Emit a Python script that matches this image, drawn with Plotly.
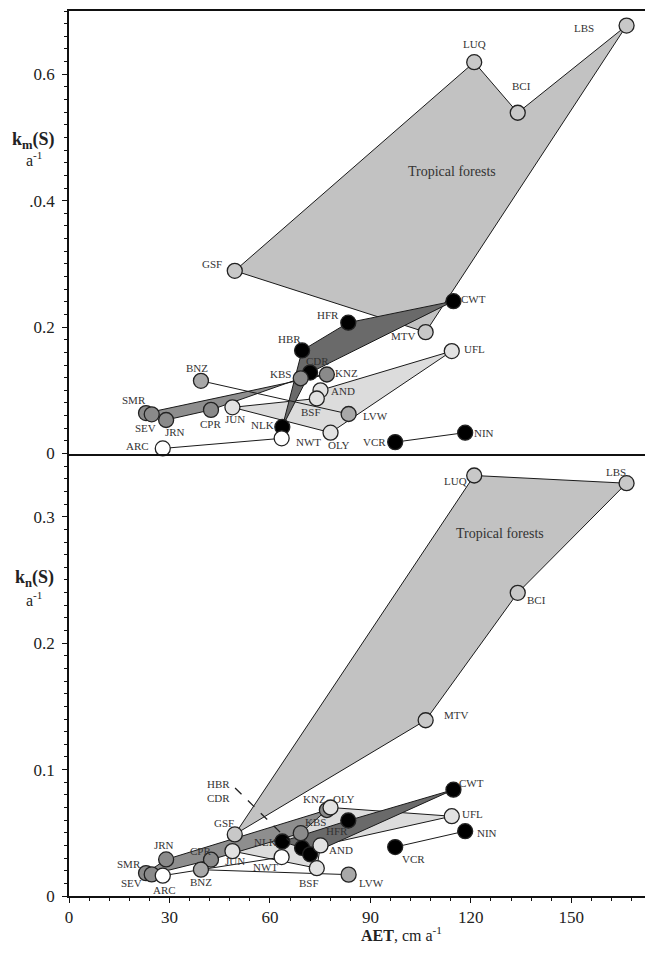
import plotly.graph_objects as go
from plotly.subplots import make_subplots

# ---------------- data ----------------
sites = ["LBS", "LUQ", "BCI", "GSF", "MTV", "CWT", "HFR", "HBR", "CDR", "KBS",
         "KNZ", "AND", "BSF", "LVW", "OLY", "NLK", "NWT", "JUN", "CPR", "BNZ",
         "SMR", "SEV", "JRN", "ARC", "UFL", "VCR", "NIN"]
aet = [166.5, 121.0, 134.0, 49.5, 106.5, 114.8, 83.4, 69.6, 72.0, 69.2,
       77.0, 75.1, 74.0, 83.5, 78.1, 63.7, 63.5, 48.8, 42.4, 39.4,
       23.0, 24.7, 29.0, 28.0, 114.3, 97.4, 118.3]
km = [0.677, 0.619, 0.539, 0.289, 0.192, 0.241, 0.207, 0.163, 0.128, 0.119,
      0.125, 0.100, 0.087, 0.0625, 0.033, 0.042, 0.024, 0.073, 0.069, 0.115,
      0.064, 0.062, 0.053, 0.008, 0.162, 0.018, 0.033]
kn = [0.3265, 0.3326, 0.2398, 0.0487, 0.139, 0.0841, 0.0597, 0.038, 0.033, 0.0497,
      0.068, 0.040, 0.022, 0.0169, 0.070, 0.0431, 0.0308, 0.0355, 0.0287, 0.0208,
      0.0181, 0.0171, 0.0289, 0.0161, 0.0631, 0.0387, 0.0513]
group = ["trop", "trop", "trop", "trop", "trop", "decid", "decid", "decid", "decid", "grass",
         "grass", "conif", "conif", "shrub", "conif", "decid", "tundra", "conif", "grass", "shrub",
         "grass", "grass", "grass", "tundra", "conif", "decid", "decid"]

x_ticks = [0, 30, 60, 90, 120, 150]
km_ticks = [0, 0.2, 0.4, 0.6]
km_ticktext = ["0", "0.2", ".0.4", "0.6"]
kn_ticks = [0, 0.1, 0.2, 0.3]
kn_ticktext = ["0", "0.1", "0.2", "0.3"]

# polygons / connecting lines (by site name)
km_polys = [(["GSF", "LUQ", "BCI", "LBS", "MTV"], "#c2c2c2"),
            (["JUN", "BSF", "AND", "UFL", "OLY"], "#dcdcdc"),
            (["SMR", "KNZ", "KBS", "CPR", "JRN", "SEV"], "#8e8e8e"),
            (["HBR", "HFR", "CWT", "CDR", "NLK"], "#6a6a6a")]
km_lines = [["ARC", "NWT"], ["BNZ", "LVW"], ["VCR", "NIN"]]
kn_polys = [(["GSF", "LUQ", "LBS", "BCI", "MTV"], "#c2c2c2"),
            (["JUN", "OLY", "UFL", "AND", "BSF"], "#dcdcdc"),
            (["SMR", "JRN", "KNZ", "KBS", "CPR", "SEV"], "#8e8e8e"),
            (["NLK", "HFR", "CWT", "CDR", "HBR"], "#6a6a6a")]
kn_lines = [["ARC", "NWT"], ["BNZ", "LVW"], ["VCR", "NIN"]]

# ---------------- style ----------------
FONT = "Liberation Serif"
fill_of = {"trop": "#c8c8c8", "decid": "#000000", "grass": "#8a8a8a",
           "conif": "#e2e2e2", "shrub": "#a8a8a8", "tundra": "#ffffff"}

# label offsets in pixels (dx right, dy down)
km_lab = {"LBS": (-43, 2), "LUQ": (0, -18), "BCI": (4, -27), "GSF": (-23, -7),
          "MTV": (-22, 4), "CWT": (20, -2), "HFR": (-20, -8), "HBR": (-13, -11),
          "CDR": (7, -12), "KBS": (-20, -4), "KNZ": (20, -1), "AND": (22, 1),
          "BSF": (-6, 13), "LVW": (27, 2), "OLY": (8, 12), "NLK": (-20, -2),
          "NWT": (27, 4), "JUN": (3, 12), "CPR": (0, 14), "BNZ": (-4, -13),
          "SMR": (-12, -13), "SEV": (-6, 14), "JRN": (9, 12), "ARC": (-25, -2),
          "UFL": (23, -2), "VCR": (-21, 0), "NIN": (19, 0)}
kn_lab = {"LBS": (-11, -11), "LUQ": (-19, 5), "BCI": (19, 7), "GSF": (-11, -11),
          "MTV": (31, -5), "CWT": (18, -7), "HFR": (-11, 10), "KBS": (15, -11),
          "KNZ": (-12, -11), "AND": (20, 5), "BSF": (-8, 15), "LVW": (23, 8),
          "OLY": (13, -9), "NLK": (-17, 0), "NWT": (-16, 10), "JUN": (3, 10),
          "CPR": (-10, -9), "BNZ": (0, 12), "SMR": (-17, -9), "SEV": (-20, 9),
          "JRN": (-2, -14), "ARC": (2, 14), "UFL": (21, -2), "VCR": (18, 12),
          "NIN": (22, 2)}

idx = {s: i for i, s in enumerate(sites)}

fig = make_subplots(rows=2, cols=1, shared_xaxes=True, vertical_spacing=0)


def add_panel(vals, polys, lines, labels, row):
    for names, col in polys:
        xs = [aet[idx[n]] for n in names] + [aet[idx[names[0]]]]
        ys = [vals[idx[n]] for n in names] + [vals[idx[names[0]]]]
        fig.add_trace(go.Scatter(x=xs, y=ys, mode="lines", fill="toself", fillcolor=col,
                                 line=dict(color="#1a1a1a", width=1), hoverinfo="skip",
                                 showlegend=False), row=row, col=1)
    for names in lines:
        fig.add_trace(go.Scatter(x=[aet[idx[n]] for n in names], y=[vals[idx[n]] for n in names],
                                 mode="lines", line=dict(color="#1a1a1a", width=1),
                                 hoverinfo="skip", showlegend=False), row=row, col=1)
    fig.add_trace(go.Scatter(x=aet, y=vals, mode="markers", cliponaxis=False,
                             marker=dict(size=15, color=[fill_of[g] for g in group],
                                         line=dict(color="#222222", width=1.3)),
                             text=sites, hoverinfo="text", showlegend=False), row=row, col=1)
    xr = "x" if row == 1 else "x2"
    yr = "y" if row == 1 else "y2"
    for s, (dx, dy) in labels.items():
        fig.add_annotation(x=aet[idx[s]], y=vals[idx[s]], xref=xr, yref=yr, text=s,
                           showarrow=False, xshift=dx, yshift=-dy,
                           font=dict(family=FONT, size=11, color="#333333"))


add_panel(km, km_polys, km_lines, km_lab, 1)
add_panel(kn, kn_polys, kn_lines, kn_lab, 2)

# region labels
fig.add_annotation(x=114.3, y=0.446, xref="x", yref="y", text="Tropical forests", showarrow=False,
                   font=dict(family=FONT, size=14, color="#333333"))
fig.add_annotation(x=128.7, y=0.287, xref="x2", yref="y2", text="Tropical forests", showarrow=False,
                   font=dict(family=FONT, size=14, color="#333333"))

# HBR / CDR leader in lower panel
fig.add_annotation(x=aet[idx["HBR"]], y=kn[idx["HBR"]], xref="x2", yref="y2",
                   text="HBR<br>CDR", showarrow=False, align="left",
                   xshift=-84, yshift=57,
                   font=dict(family=FONT, size=11, color="#333333"))
fig.add_shape(type="line", xref="x2", yref="y2", xsizemode="pixel", ysizemode="pixel",
              xanchor=aet[idx["HBR"]], yanchor=kn[idx["HBR"]],
              x0=-67, y0=60, x1=-13, y1=7, line=dict(color="#222222", width=1.3, dash="dash"))

# axis titles
fig.add_annotation(xref="paper", yref="paper", x=(33 - 69) / 576, y=(896 - 127) / 885,
                   text="<b>k<sub>m</sub>(S)</b>", showarrow=False, xanchor="center",
                   font=dict(family=FONT, size=18, color="#222222"))
fig.add_annotation(xref="paper", yref="paper", x=(34 - 69) / 576, y=(896 - 147) / 885,
                   text="a<sup>-1</sup>", showarrow=False, xanchor="center",
                   font=dict(family=FONT, size=16, color="#222222"))
fig.add_annotation(xref="paper", yref="paper", x=(34 - 69) / 576, y=(896 - 578) / 885,
                   text="<b>k<sub>n</sub>(S)</b>", showarrow=False, xanchor="center",
                   font=dict(family=FONT, size=18, color="#222222"))
fig.add_annotation(xref="paper", yref="paper", x=(34 - 69) / 576, y=(896 - 599) / 885,
                   text="a<sup>-1</sup>", showarrow=False, xanchor="center",
                   font=dict(family=FONT, size=16, color="#222222"))
fig.add_annotation(xref="paper", yref="paper", x=(401 - 69) / 576, y=(896 - 946) / 885,
                   text="<b>AET</b>, cm a<sup>-1</sup>", showarrow=False, xanchor="center",
                   font=dict(family=FONT, size=16, color="#222222"))

axis_common = dict(showgrid=False, zeroline=False, showline=True, linecolor="#111111",
                   linewidth=1.5, tickfont=dict(family=FONT, size=17, color="#222222"))

fig.update_xaxes(range=[0, 172], row=1, col=1, mirror=True, ticks="", showticklabels=False,
                 **axis_common)
fig.update_xaxes(range=[0, 172], row=2, col=1, ticks="outside", ticklen=5, tickwidth=1.2,
                 tickvals=x_ticks, tickcolor="#111111",
                 minor=dict(dtick=6, tick0=0, ticks="outside", ticklen=3, tickcolor="#111111"),
                 **axis_common)
fig.update_yaxes(range=[0, 0.7], row=1, col=1, ticks="outside", ticklen=5, tickwidth=1.2,
                 tickvals=km_ticks, ticktext=km_ticktext, tickcolor="#111111",
                 ticklabelstandoff=4,
                 minor=dict(dtick=0.02, tick0=0, ticks="outside", ticklen=3, tickcolor="#111111"),
                 **axis_common)
fig.update_yaxes(range=[0, 0.35], row=2, col=1, ticks="outside", ticklen=5, tickwidth=1.2,
                 tickvals=kn_ticks, ticktext=kn_ticktext, tickcolor="#111111",
                 ticklabelstandoff=4,
                 minor=dict(dtick=0.01, tick0=0, ticks="outside", ticklen=3, tickcolor="#111111"),
                 **axis_common)

fig.update_layout(width=648, height=956, margin=dict(l=69, r=3, t=11, b=60),
                  plot_bgcolor="white", paper_bgcolor="white", showlegend=False,
                  font=dict(family=FONT))

fig.write_html("out.html")
